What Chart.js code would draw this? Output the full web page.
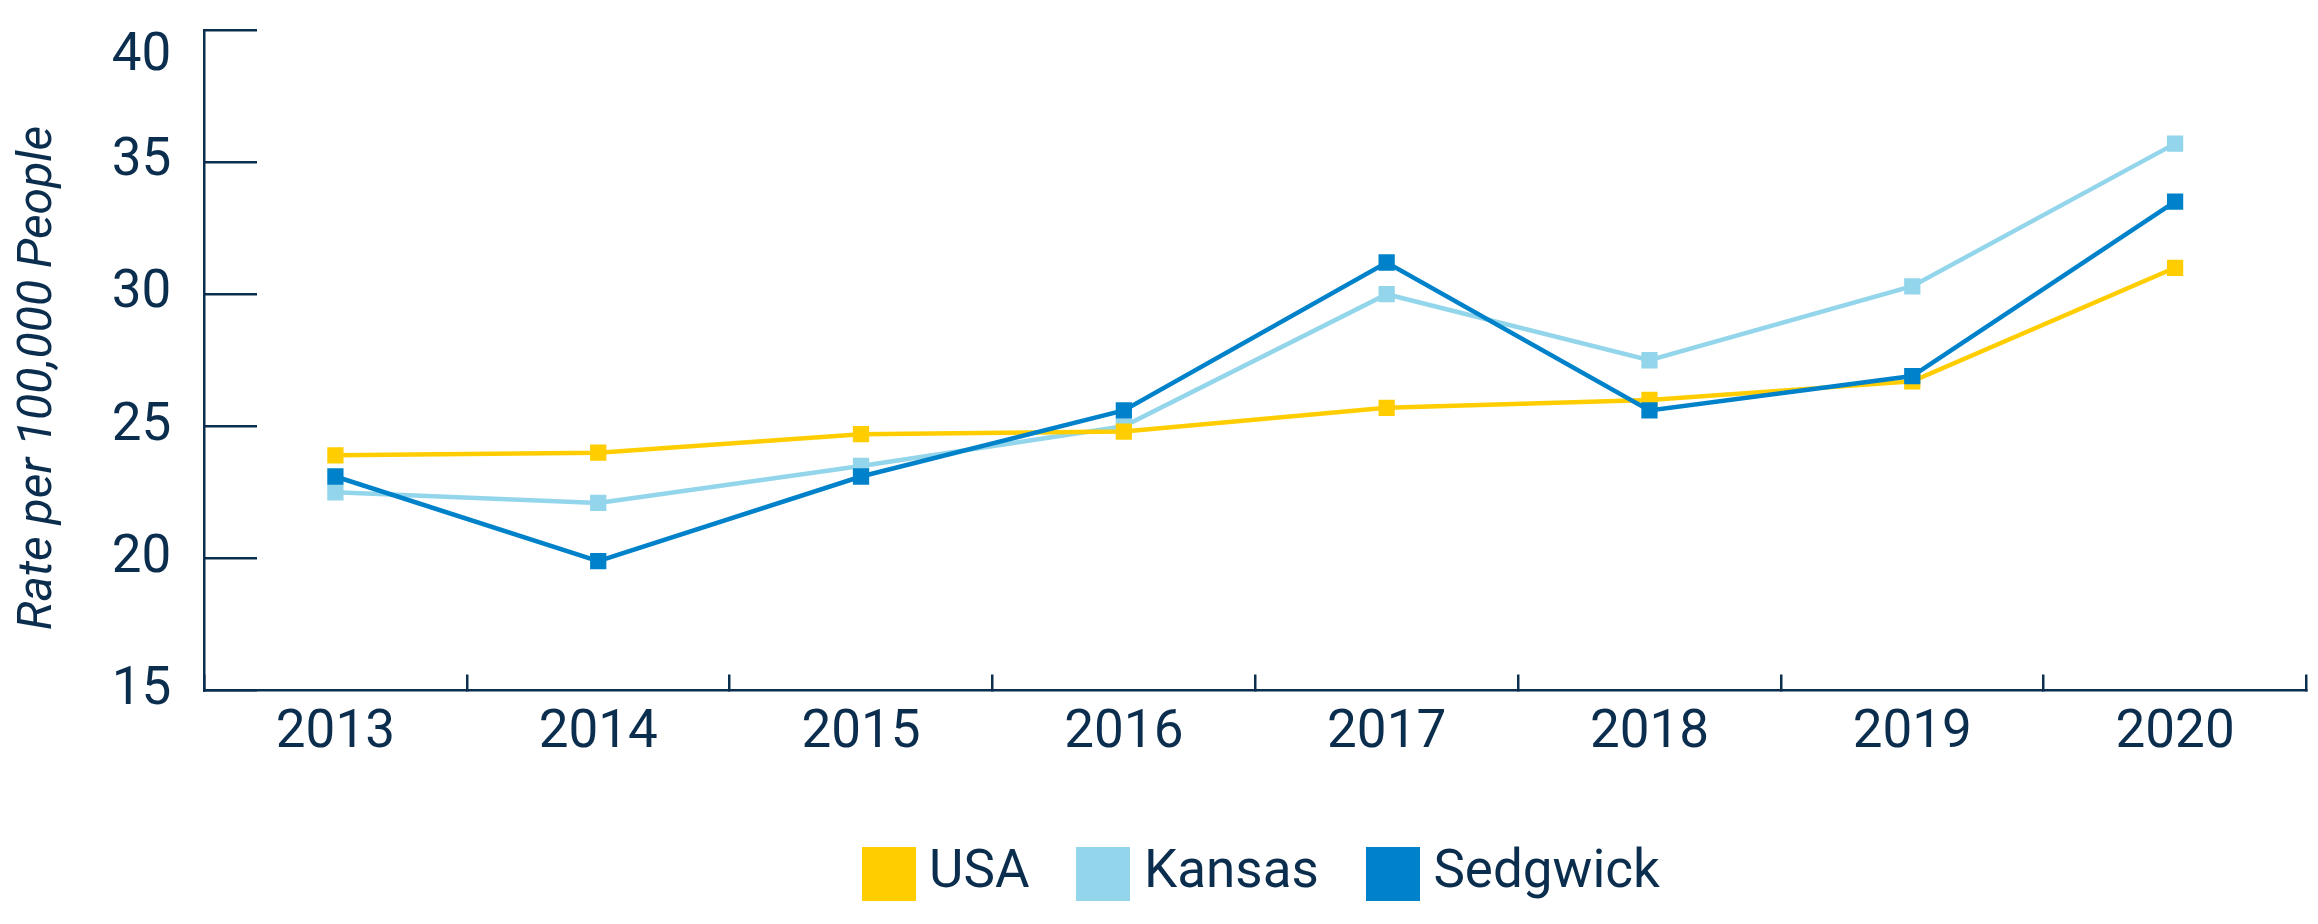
<!DOCTYPE html>
<html>
<head>
<meta charset="utf-8">
<script src="https://cdn.jsdelivr.net/npm/chart.js@4/dist/chart.umd.min.js"></script>
<style>
    html, body { margin: 0; padding: 0; background: #fff; }
    #wrap { width: 2318px; height: 924px; }
</style>
</head>
<body>
<div id="wrap"><canvas id="rateChart"></canvas></div>
<script>
// data
const years = ['2013', '2014', '2015', '2016', '2017', '2018', '2019', '2020'];
const usaRates = [23.9, 24.0, 24.7, 24.8, 25.7, 26.0, 26.7, 31.0];
const kansasRates = [22.5, 22.1, 23.5, 25.0, 30.0, 27.5, 30.3, 35.7];
const sedgwickRates = [23.1, 19.9, 23.1, 25.6, 31.2, 25.6, 26.9, 33.5];
const yMin = 15;
const yMax = 40;
const yStep = 5;

const navy = '#0c2e4e';
const fontFamily = 'Roboto, sans-serif';

document.addEventListener('DOMContentLoaded', function() {
    initRateChart();
});

function makeSeries(label, data, color, order) {
    return {
        label: label,
        data: data,
        borderColor: color,
        backgroundColor: color,
        borderWidth: 4.5,
        pointStyle: 'rect',
        pointRadius: 11.5,
        pointBorderWidth: 0,
        pointBackgroundColor: color,
        tension: 0,
        order: order
    };
}

// square legend swatch, wider than the slot chart.js reserves for it,
// so the label text sits close to the square like in the original
function makeSwatch(color) {
    const c = document.createElement('canvas');
    c.width = 54;
    c.height = 54;
    const g = c.getContext('2d');
    g.fillStyle = color;
    g.fillRect(0, 0, 54, 54);
    return c;
}

// small nudge: the swatch overhang makes the legend look off-centre
const legendNudge = {
    id: 'legendNudge',
    afterLayout: function(chart) {
        if (chart.legend) {
            chart.legend.left += 12;
            chart.legend.right += 12;
        }
    }
};

function initRateChart() {
    const ctx = document.getElementById('rateChart');
    Chart.defaults.font.family = fontFamily;
    Chart.defaults.color = navy;

    new Chart(ctx, {
        type: 'line',
        data: {
            labels: years,
            datasets: [
                makeSeries('USA', usaRates, '#ffcd00', 1),
                makeSeries('Kansas', kansasRates, '#93d5eb', 2),
                makeSeries('Sedgwick', sedgwickRates, '#0082ca', 0)
            ]
        },
        plugins: [legendNudge],
        options: {
            responsive: true,
            maintainAspectRatio: false,
            animation: false,
            layout: { padding: { top: 30, right: 0, bottom: 14, left: 0 } },
            plugins: {
                tooltip: { enabled: false },
                legend: {
                    position: 'bottom',
                    fullSize: false,
                    labels: {
                        usePointStyle: true,
                        pointStyleWidth: 28,
                        boxHeight: 54,
                        padding: 60,
                        color: navy,
                        font: { size: 53, family: fontFamily },
                        sort: function(a, b) { return a.datasetIndex - b.datasetIndex; },
                        generateLabels: function(chart) {
                            const items = Chart.defaults.plugins.legend.labels.generateLabels(chart);
                            items.forEach(function(item) {
                                const ds = chart.data.datasets[item.datasetIndex];
                                item.pointStyle = makeSwatch(ds.borderColor);
                            });
                            return items;
                        }
                    }
                }
            },
            scales: {
                x: {
                    offset: true,
                    grid: {
                        offset: true,
                        drawOnChartArea: false,
                        drawTicks: true,
                        tickLength: -16,
                        color: navy,
                        lineWidth: 2.5
                    },
                    border: { display: true, color: navy, width: 2.5 },
                    ticks: {
                        padding: 33,
                        color: navy,
                        maxRotation: 0,
                        font: { size: 53, lineHeight: 1, family: fontFamily }
                    },
                    afterFit: function(scale) { scale.height = 96.5; }
                },
                y: {
                    min: yMin,
                    max: yMax,
                    grid: {
                        drawOnChartArea: false,
                        drawTicks: true,
                        tickLength: -53,
                        color: navy,
                        lineWidth: 2.5
                    },
                    border: { display: true, color: navy, width: 2.5 },
                    ticks: {
                        stepSize: yStep,
                        padding: 85.6,
                        color: navy,
                        // the top label sits just under its tick in the original
                        callback: function(value) {
                            return value === yMax ? ['', String(value)] : String(value);
                        },
                        font: { size: 53, lineHeight: 1, family: fontFamily }
                    },
                    title: {
                        display: true,
                        // trailing spaces nudge the centred title a little lower, as in the original
                        text: 'Rate per 100,000 People   ',
                        color: navy,
                        padding: { top: 10, bottom: 0 },
                        font: { size: 48, style: 'italic', family: fontFamily }
                    },
                    afterFit: function(scale) {
                        scale.width = 204;
                        scale.paddingTop = 0;
                    }
                }
            }
        }
    });
}
</script>
</body>
</html>
